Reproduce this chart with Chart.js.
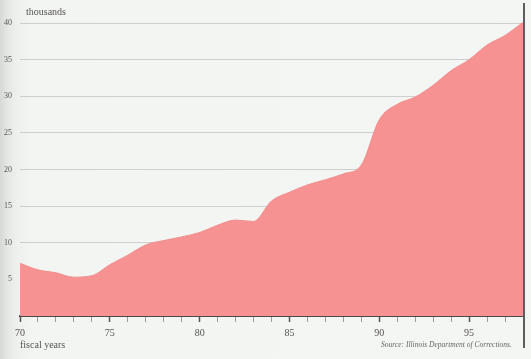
<!DOCTYPE html>
<html>
<head>
<meta charset="utf-8">
<script src="https://cdn.jsdelivr.net/npm/chart.js@4/dist/chart.umd.min.js"></script>
<style>
  html, body { margin: 0; padding: 0; }
  body {
    width: 531px; height: 359px; overflow: hidden;
    background: linear-gradient(to right, #d6d8d6 0px, #e6e8e6 8px, #eff1ee 18px, #f3f5f2 34px, #f4f6f3 100%);
  }
  canvas { display: block; }
</style>
</head>
<body>
<canvas id="c" width="531" height="359"></canvas>
<script>
// Fiscal years (19xx)
const years = [70,71,72,73,74,75,76,77,78,79,80,81,82,83,84,85,86,87,88,89,90,91,92,93,94,95,96,97,98];
// Prison population, thousands
const population = [7.2,6.3,5.9,5.3,5.5,7.0,8.3,9.7,10.3,10.8,11.4,12.4,13.1,12.9,15.7,16.9,17.9,18.6,19.4,20.6,26.8,28.9,29.9,31.5,33.5,35.0,37.0,38.3,40.1];
const yTickValues = [5,10,15,20,25,30,35,40];
const xLabelValues = [70,75,80,85,90,95];
const unitLabel = "thousands";
const xAxisLabel = "fiscal years";
const sourceNote = "Source: Illinois Department of Corrections.";

const SERIF = '"Liberation Serif", "DejaVu Serif", serif';

const decor = {
  id: 'decor',
  afterDraw(chart) {
    const ctx = chart.ctx;
    const a = chart.chartArea;
    ctx.save();
    // right-hand vertical rule
    ctx.strokeStyle = '#5e5e5e';
    ctx.lineWidth = 2;
    ctx.beginPath();
    ctx.moveTo(a.right + 1, 3);
    ctx.lineTo(a.right + 1, 348);
    ctx.stroke();
    // texts
    ctx.fillStyle = '#555';
    ctx.textBaseline = 'middle';
    ctx.textAlign = 'left';
    ctx.font = '10px ' + SERIF;
    ctx.fillText(unitLabel, a.left + 6, 12);
    ctx.fillText(xAxisLabel, a.left, 345);
    ctx.font = 'italic 7.5px ' + SERIF;
    ctx.fillStyle = '#666';
    ctx.fillText(sourceNote, 381, 345);
    ctx.restore();
  }
};

new Chart(document.getElementById('c'), {
  type: 'line',
  data: {
    datasets: [{
      data: years.map((y, i) => ({ x: y, y: population[i] })),
      backgroundColor: '#f69292',
      borderColor: '#f28c8c',
      borderWidth: 1,
      fill: 'origin',
      pointRadius: 0,
      tension: 0.4,
      cubicInterpolationMode: 'monotone',
      clip: false
    }]
  },
  options: {
    responsive: false,
    animation: false,
    devicePixelRatio: 1,
    layout: { padding: { top: 23, right: 8, left: 0, bottom: 0 } },
    plugins: { legend: { display: false }, tooltip: { enabled: false } },
    scales: {
      x: {
        type: 'linear',
        min: years[0],
        max: years[years.length - 1],
        afterFit(s) { s.height = 43; },
        afterBuildTicks(s) { s.ticks = years.map(v => ({ value: v })); },
        border: { display: true, color: '#4a4a4a', width: 2 },
        grid: {
          drawOnChartArea: false,
          drawTicks: true,
          tickLength: 6,
          tickColor: (c) => xLabelValues.includes(c.tick && c.tick.value) ? '#555' : '#9a9a9a',
          tickWidth: (c) => xLabelValues.includes(c.tick && c.tick.value) ? 1.5 : 1
        },
        ticks: {
          autoSkip: false,
          maxRotation: 0,
          padding: 5,
          color: '#555',
          font: { family: SERIF, size: 10 },
          callback: (v) => xLabelValues.includes(v) ? String(v) : ''
        }
      },
      y: {
        min: 0,
        max: 40,
        z: 1,
        afterFit(s) { s.width = 20; },
        afterBuildTicks(s) { s.ticks = yTickValues.map(v => ({ value: v })); },
        border: { display: false },
        grid: {
          color: 'rgba(110,110,110,0.28)',
          lineWidth: 1,
          drawTicks: false
        },
        ticks: {
          padding: 8,
          color: '#555',
          font: { family: SERIF, size: 8 },
          callback: (v) => String(v)
        }
      }
    }
  },
  plugins: [decor]
});
</script>
</body>
</html>
